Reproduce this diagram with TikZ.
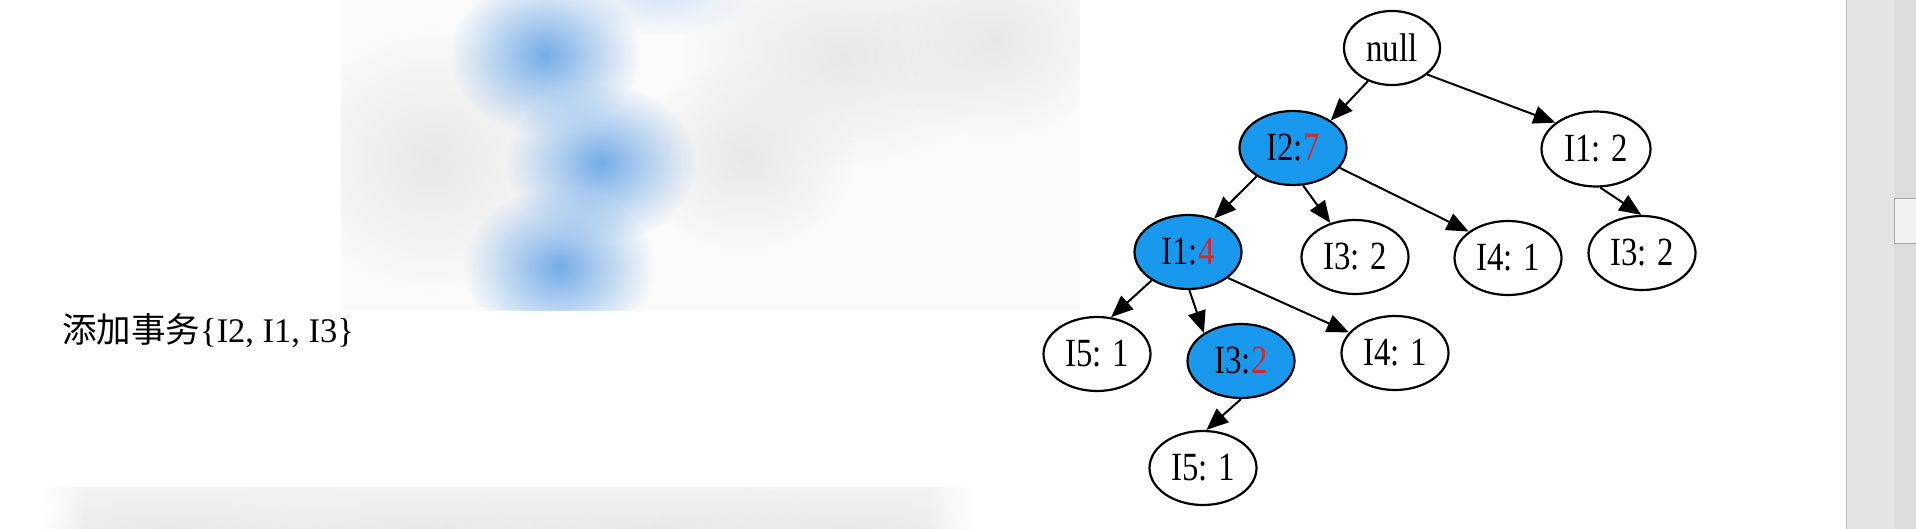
\documentclass[tikz,border=0pt]{standalone}
\usepackage{fontspec}
\setmainfont{Liberation Serif}
\newfontfamily\cjk{Noto Sans CJK SC}
\usetikzlibrary{shapes.geometric,arrows.meta,fadings}
\definecolor{nodeblue}{RGB}{24,153,238}
\definecolor{numred}{RGB}{215,38,38}
\definecolor{blurblue}{RGB}{116,172,232}
\definecolor{blurgray}{RGB}{232,232,232}
\definecolor{sbar}{RGB}{228,228,228}
\definecolor{sbardark}{RGB}{220,220,220}
\tikzfading[name=blobfade, inner color=transparent!0, outer color=transparent!100]
\newcommand\nt[1]{\scalebox{0.82}[1]{#1}}
\newcommand\rn[1]{\textcolor{numred}{#1}}
\tikzset{
  tn/.style={ellipse, draw=black, line width=2.2pt, fill=white, minimum width=107pt,
    minimum height=74pt, inner sep=0pt, font=\fontsize{40}{41}\selectfont},
  hl/.style={tn, fill=nodeblue},
  conn/.style={line width=2pt, -{Triangle[length=22pt,width=18pt]}},
  blob/.style={path fading=blobfade},
}
\begin{document}
\begin{tikzpicture}[x=1pt,y=-1pt]
\useasboundingbox (0,0) rectangle (1916,529);
\fill[white] (0,0) rectangle (1916,529);

% blurred image (top)
\begin{scope}
\clip (341,0) rectangle (1080,310);
\fill[blurgray!20] (341,0) rectangle (1080,310);
\fill[blurgray, blob] (432,160) ellipse (140 and 130);
\fill[blurgray, blob] (842,57) ellipse (160 and 110);
\fill[blurgray, blob] (993,40) ellipse (120 and 100);
\fill[blurgray, blob] (745,157) ellipse (110 and 95);
\fill[blurblue!30, blob] (662,-5) ellipse (90 and 40);
\fill[blurblue, blob] (545,55) ellipse (95 and 80);
\fill[blurblue, blob] (601,163) ellipse (95 and 80);
\fill[blurblue, blob] (559,267) ellipse (95 and 80);
\end{scope}

% blurred strip (bottom)
\begin{scope}
\clip (45,487) rectangle (970,529);
\fill[blurgray!45] (45,487) rectangle (970,529);
\fill[blurgray, blob] (170,535) ellipse (200 and 60);
\fill[blurgray, blob] (420,535) ellipse (200 and 60);
\fill[blurgray, blob] (640,535) ellipse (200 and 60);
\fill[blurgray, blob] (850,535) ellipse (200 and 60);
\fill[white, blob] (45,510) ellipse (40 and 80);
\fill[white, blob] (975,510) ellipse (50 and 80);
\end{scope}

% scrollbar
\fill[sbar] (1846,0) rectangle (1916,529);
\draw[gray!55, line width=1pt] (1846.5,0) -- (1846.5,529);
\fill[sbardark] (1894,0) rectangle (1916,529);
\draw[gray!70, fill=gray!10, line width=1pt] (1894.5,199) rectangle (1920,244);

% label
\node[anchor=base west, inner sep=0pt, font=\fontsize{34.5}{36}\selectfont] (lbl) at (62,342)
  {{\cjk 添加事务}\{I2, I1, I3\}};

% tree
\node[tn, minimum width=96pt] (null) at (1392,48) {\nt{null}};
\node[hl] (i27) at (1293,148) {\nt{I2:\rn{7}}};
\node[tn, minimum width=109pt, minimum height=75pt] (i12) at (1596,149) {\nt{I1: 2}};
\node[hl] (i14) at (1188,252) {\nt{I1:\rn{4}}};
\node[tn] (i32a) at (1355,257) {\nt{I3: 2}};
\node[tn] (i41a) at (1508,258) {\nt{I4: 1}};
\node[tn] (i32r) at (1642,253) {\nt{I3: 2}};
\node[tn] (i51) at (1097,354) {\nt{I5: 1}};
\node[hl] (i32b) at (1241,361) {\nt{I3:\rn{2}}};
\node[tn] (i41b) at (1395,353) {\nt{I4: 1}};
\node[tn] (i5b) at (1203,468) {\nt{I5: 1}};

\draw[conn] (null.234) -- (i27.36.6);
\draw[conn] (null.-37.4) -- (i12.147.7);
\draw[conn] (i27.218.6) -- (i14.52.6);
\draw[conn] (i27.-75.8) -- (i32a.126.6);
\draw[conn] (i27.-23.7) -- (i41a.146.7);
\draw[conn] (i12.-84) -- (i32r.91.5);
\draw[conn] (i14.218.5) -- (i51.69.3);
\draw[conn] (i14.-88.5) -- (i32b.143);
\draw[conn] (i14.-33.4) -- (i41b.156);
\draw[conn] (i32b.-90) -- (i5b.85);
\end{tikzpicture}
\end{document}
